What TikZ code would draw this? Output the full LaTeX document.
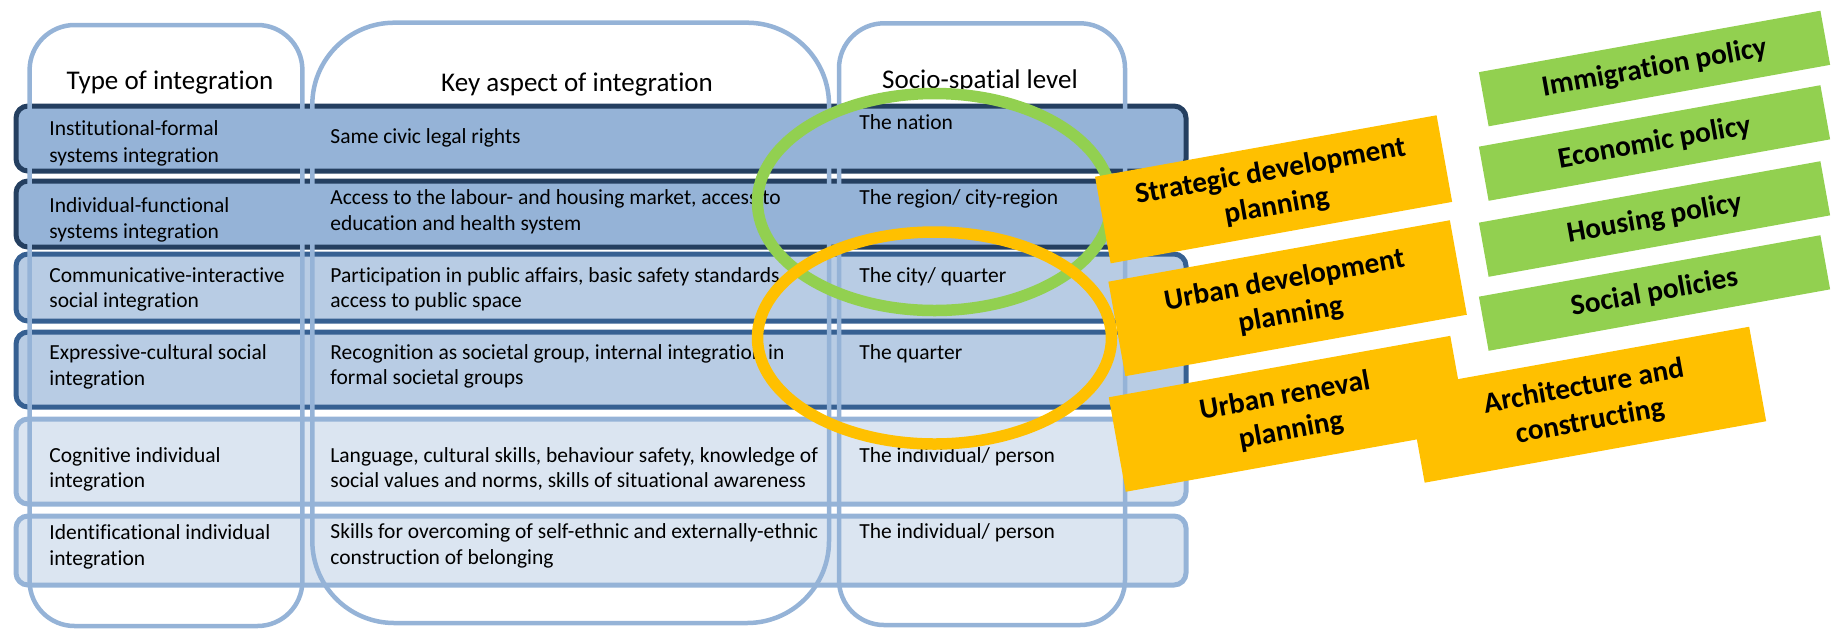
\documentclass[tikz,border=0pt]{standalone}
\usepackage{fontspec}
\setmainfont{Carlito}[Ligatures={CommonOff,ContextualOff},Contextuals={AlternateOff}]
\definecolor{cRowA}{HTML}{95B3D7}
\definecolor{cRowAb}{HTML}{243F60}
\definecolor{cRowB}{HTML}{B8CCE4}
\definecolor{cRowBb}{HTML}{366092}
\definecolor{cRowC}{HTML}{DBE5F1}
\definecolor{cRowCb}{HTML}{95B3D7}
\definecolor{cCol}{HTML}{95B3D7}
\definecolor{cGreen}{HTML}{92D050}
\definecolor{cOrange}{HTML}{FFC000}
\begin{document}
\begin{tikzpicture}[x=0.5pt,y=-0.5pt,
  rowbox/.style={line width=2.5pt, rounded corners=6pt},
  rowA/.style={rowbox, fill=cRowA, draw=cRowAb},
  rowB/.style={rowbox, fill=cRowB, draw=cRowBb},
  rowC/.style={rowbox, fill=cRowC, draw=cRowCb},
  colbox/.style={draw=cCol, line width=2.25pt},
  tx/.style={anchor=base west, inner sep=0pt, font=\fontsize{10.75}{13}\selectfont},
  hd/.style={anchor=base, inner sep=0pt, font=\fontsize{13.5}{16}\selectfont},
  ring/.style={line width=5.75pt},
  tilted/.style={rotate=10.2, inner sep=0pt, align=center, minimum width=173.5pt,
     font=\bfseries\fontsize{14.65}{17.6}\selectfont},
  gbox/.style={tilted, fill=cGreen, minimum height=27.5pt},
  obox/.style={tilted, fill=cOrange}
]
\useasboundingbox (0,0) rectangle (1834,628);

% rows
\draw[rowA] (16,106) rectangle (1186,171);
\draw[rowA] (16,181) rectangle (1186,247);
\draw[rowB] (16,254) rectangle (1186,321);
\draw[rowB] (16,332) rectangle (1186,407);
\draw[rowC] (16,419) rectangle (1186,504);
\draw[rowC] (16,516) rectangle (1186,585);

% headers
\node[hd] (h1) at (170,89) {Type of integration};
\node[hd] (h2) at (577,91) {Key aspect of integration};
\node[hd] (h3) at (980,88) {Socio-spatial level};

% row 1
\node[tx] (a1) at (49,135) {Institutional-formal};
\node[tx] (a2) at (49,162) {systems integration};
\node[tx] (b1) at (330,143) {Same civic legal rights};
\node[tx] (c1) at (859,129) {The nation};
% row 2
\node[tx] (a3) at (49,212) {Individual-functional};
\node[tx] (a4) at (49,238) {systems integration};
\node[tx] (b2) at (330,204) {Access to the labour- and housing market, access to};
\node[tx] (b3) at (330,230) {education and health system};
\node[tx] (c2) at (859,204) {The region/ city-region};
% row 3
\node[tx] (a5) at (49,282) {Communicative-interactive};
\node[tx] (a6) at (49,307) {social integration};
\node[tx] (b4) at (330,282) {Participation in public affairs, basic safety standards};
\node[tx] (b5) at (330,307) {access to public space};
\node[tx] (c3) at (859,282) {The city/ quarter};
% row 4
\node[tx] (a7) at (49,359) {Expressive-cultural social};
\node[tx] (a8) at (49,385) {integration};
\node[tx] (b6) at (330,359) {Recognition as societal group, internal integration in};
\node[tx] (b7) at (330,384) {formal societal groups};
\node[tx] (c4) at (859,359) {The quarter};
% row 5
\node[tx] (a9) at (49,462) {Cognitive individual};
\node[tx] (a10) at (49,487) {integration};
\node[tx] (b8) at (330,462) {Language, cultural skills, behaviour safety, knowledge of};
\node[tx] (b9) at (330,487) {social values and norms, skills of situational awareness};
\node[tx] (c5) at (859,462) {The individual/ person};
% row 6
\node[tx] (a11) at (49,539) {Identificational individual};
\node[tx] (a12) at (49,565) {integration};
\node[tx] (b10) at (330,538) {Skills for overcoming of self-ethnic and externally-ethnic};
\node[tx] (b11) at (330,564) {construction of belonging};
\node[tx] (c6) at (859,538) {The individual/ person};

% columns
\draw[colbox, rounded corners=22.5pt] (29.6,25) rectangle (302.4,626);
\draw[colbox, rounded corners=41pt] (312.3,22.7) rectangle (829,623);
\draw[colbox, rounded corners=22.5pt] (839,23.3) rectangle (1125,625);

% ellipses
\draw[ring, draw=cGreen] (934.5,202) ellipse [x radius=88.5pt, y radius=54.25pt];
\draw[ring, draw=cOrange] (934.5,338) ellipse [x radius=88.5pt, y radius=53pt];

% orange boxes
\node[obox, minimum height=44pt] (o1) at (1273.6,189.3) {Strategic development\\planning};
\node[obox, minimum height=48pt] (o2) at (1287.6,298.2) {Urban development\\planning};
\node[obox, minimum height=48pt] (o3) at (1288,413.8) {Urban reneval\\planning};
\node[obox, minimum height=48pt] (o4) at (1586.9,404.7) {Architecture and\\constructing};

% green boxes
\node[gbox] (g1) at (1654.5,68.5) {Immigration policy};
\node[gbox] (g2) at (1654.5,143) {Economic policy};
\node[gbox] (g3) at (1654.5,219) {Housing policy};
\node[gbox] (g4) at (1654.5,293) {Social policies};
\end{tikzpicture}
\end{document}
